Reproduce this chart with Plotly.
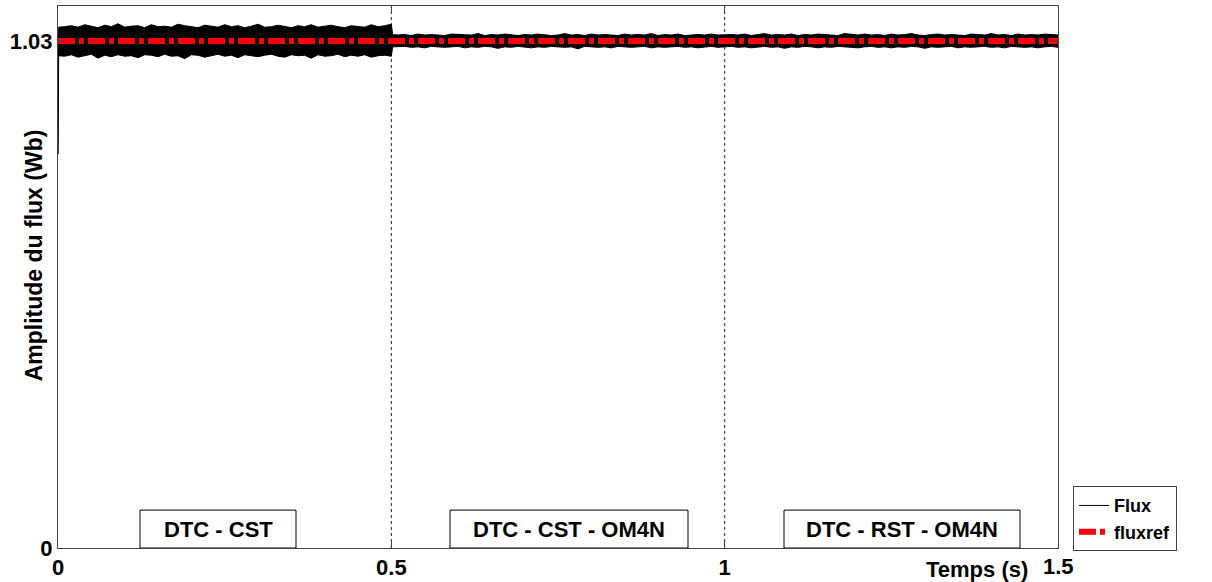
import plotly.graph_objects as go

# ---- data ----
# time samples (s): t=0, t=0.001, every 0.01 s to 0.5, t=0.502, every 0.01 s to 1.5
t_env = ([0.0, 0.001] + [round(0.01 * k, 2) for k in range(1, 51)] + [0.502]
         + [round(0.01 * k, 2) for k in range(51, 151)])

flux_ref_value = 1.03  # Wb

# envelope of the flux ripple, offsets from 1.03 Wb in mWb
upper_mwb = [-230, 28,
    29, 31, 28, 33, 30, 27, 32, 29, 35, 28, 30, 31, 27, 33, 29, 30, 28, 34, 31, 29,
    27, 32, 30, 28, 33, 29, 31, 27, 30, 34, 28, 29, 32, 30, 27, 31, 29, 33, 28, 30,
    32, 29, 27, 31, 30, 28, 33, 29, 31, 34,
    13,
    12, 13, 11, 14, 12, 13, 12, 11, 14, 13, 12, 12, 15, 11, 13, 12, 14, 12, 11, 13,
    12, 14, 13, 11, 12, 15, 12, 13, 11, 14, 12, 13, 12, 11, 14, 12, 13, 12, 15, 11,
    13, 12, 14, 11, 12, 13, 12, 14, 12, 13,
    13, 12, 14, 11, 13, 15, 12, 13, 12, 14, 11, 13, 12, 14, 13, 12, 11, 15, 13, 12,
    14, 12, 13, 11, 14, 12, 13, 15, 12, 11, 13, 14, 12, 13, 12, 11, 14, 13, 12, 15,
    12, 13, 11, 14, 12, 13, 12, 14, 13, 12]
lower_mwb = [-230, -30,
    -31, -28, -33, -30, -27, -35, -29, -32, -28, -31, -30, -34, -28, -29, -32, -27, -31, -30, -36, -28,
    -29, -33, -30, -27, -31, -29, -34, -28, -30, -32, -29, -27, -31, -33, -28, -30, -29, -35, -28, -31,
    -30, -27, -32, -29, -31, -28, -33, -30, -29, -31,
    -12,
    -12, -11, -13, -12, -14, -11, -12, -13, -12, -11, -14, -12, -13, -11, -12, -15, -12, -13, -11, -12,
    -14, -12, -13, -11, -12, -13, -12, -16, -11, -12, -13, -12, -14, -11, -12, -13, -12, -11, -14, -12,
    -13, -12, -11, -13, -12, -14, -12, -11, -13, -12,
    -11, -13, -12, -14, -12, -11, -13, -12, -15, -12, -13, -11, -12, -14, -12, -13, -11, -12, -13, -14,
    -12, -11, -13, -12, -14, -12, -13, -11, -12, -15, -12, -13, -12, -11, -14, -12, -13, -12, -11, -13,
    -12, -14, -11, -12, -13, -12, -14, -12, -11, -13]

x_ticks = [0, 0.5, 1, 1.5]
x_tick_text = ["0", "0.5", "1", ""]
y_ticks = [0, 1.03]
y_tick_text = ["0", "1.03"]
mode_labels = ["DTC - CST", "DTC - CST - OM4N", "DTC - RST - OM4N"]
mode_boxes = [(0.123, 0.357), (0.588, 0.945), (1.089, 1.443)]
switch_times = [0.5, 1.0]

upper = [flux_ref_value + v / 1000 for v in upper_mwb]
lower = [flux_ref_value + v / 1000 for v in lower_mwb]

FONT = "Liberation Sans, Arial, Helvetica, sans-serif"

fig = go.Figure()
fig.add_trace(go.Scatter(x=t_env, y=upper, mode="lines", name="Flux",
                         line=dict(color="black", width=1), showlegend=True))
fig.add_trace(go.Scatter(x=t_env, y=lower, mode="lines", name="Flux",
                         line=dict(color="black", width=1), fill="tonexty",
                         fillcolor="black", showlegend=False))
fig.add_trace(go.Scatter(x=[0, 1.5], y=[flux_ref_value, flux_ref_value], mode="lines",
                         name="fluxref",
                         line=dict(color="#ff0000", width=6, dash="17px,4px,5px,4px")))

for ts in switch_times:
    fig.add_shape(type="line", x0=ts, x1=ts, y0=0, y1=1, yref="paper", xref="x",
                  line=dict(color="#222", width=1, dash="3px,3px"), layer="below")

for (x0, x1), lab in zip(mode_boxes, mode_labels):
    fig.add_shape(type="rect", x0=x0, x1=x1, y0=0, y1=0.077, xref="x", yref="y",
                  line=dict(color="black", width=1), fillcolor="white")
    fig.add_annotation(x=(x0 + x1) / 2, y=0.0385, xref="x", yref="y", text=lab,
                       showarrow=False, xanchor="center",
                       font=dict(family=FONT, size=22, color="black", weight="bold"))

fig.add_annotation(x=0.919, y=0, xref="paper", yref="paper", xanchor="center", yanchor="top",
                   yshift=-7, text="Temps (s)", showarrow=False,
                   font=dict(family=FONT, size=22, color="black", weight="bold"))
fig.add_annotation(x=1.0, y=0, xref="paper", yref="paper", xanchor="center", yanchor="top",
                   yshift=-4, text="1.5", showarrow=False,
                   font=dict(family=FONT, size=22, color="black", weight="bold"))
fig.add_annotation(x=-0.024, y=0.54, xref="paper", yref="paper", xanchor="center",
                   yanchor="middle", textangle=-90, text="Amplitude du flux (Wb)",
                   showarrow=False,
                   font=dict(family=FONT, size=23, color="black", weight="bold"))

fig.update_layout(
    width=1212, height=582,
    margin=dict(l=58, r=154, t=6, b=34, autoexpand=False),
    paper_bgcolor="white", plot_bgcolor="white",
    font=dict(family=FONT, color="black"),
    showlegend=True,
    legend=dict(x=1.015, y=-0.006, xanchor="left", yanchor="bottom",
                bordercolor="#444", borderwidth=1, bgcolor="white",
                traceorder="normal",
                font=dict(family=FONT, size=18, color="black", weight="bold"),
                tracegroupgap=0, itemwidth=30),
    xaxis=dict(range=[0, 1.5], tickvals=x_ticks, ticktext=x_tick_text, automargin=False,
               showgrid=False, zeroline=False, showline=True, linecolor="#444",
               linewidth=1, mirror="ticks", ticks="inside", ticklen=6, tickcolor="#444",
               tickfont=dict(family=FONT, size=22, color="black", weight="bold")),
    yaxis=dict(range=[0, 1.101], tickvals=y_ticks, ticktext=y_tick_text, automargin=False,
               showgrid=False, zeroline=False, showline=True, linecolor="#444",
               linewidth=1, mirror="ticks", ticks="inside", ticklen=6, tickcolor="#444",
               tickfont=dict(family=FONT, size=22, color="black", weight="bold")),
)

fig.write_html("out.html")
